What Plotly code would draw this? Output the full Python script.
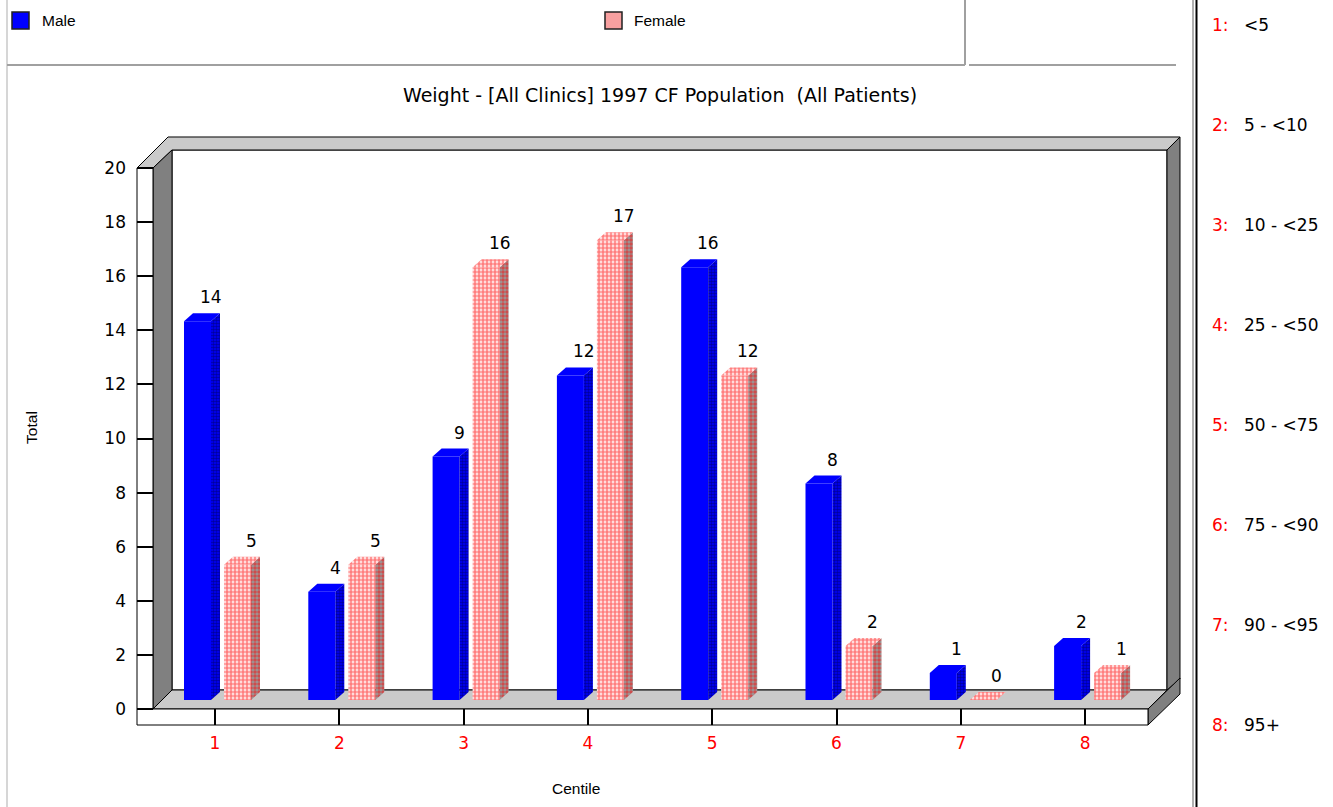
import plotly.graph_objects as go

# ---- data -------------------------------------------------------------
centiles = ["1", "2", "3", "4", "5", "6", "7", "8"]
centile_ranges = ["<5", "5 - <10", "10 - <25", "25 - <50",
                  "50 - <75", "75 - <90", "90 - <95", "95+"]
male = [14, 4, 9, 12, 16, 8, 1, 2]
female = [5, 5, 16, 17, 12, 2, 0, 1]
y_ticks = list(range(0, 21, 2))

# ---- geometry (pixels) ------------------------------------------------
W, H = 1333, 807
L, R, T, B = 137, 1190, 130, 725          # plotting box
X1_PX, X_STEP = 215, 124.3                # category 1 position and spacing
Y0_PX, Y_UNIT = 709, 27.05                # value 0 on front plane, px per unit
PLANE_SHIFT = 9                           # bars stand on a plane 9 px deeper

FONT = "DejaVu Sans"
FONT_NARROW = "Liberation Sans"
FS = 17
FS_SMALL = 15.5
FS_TITLE = 19


def xval(p):
    return 1 + (p - X1_PX) / X_STEP


def yval(p, shift=0):
    return (Y0_PX - shift - p) / Y_UNIT


def px(p):
    return (p - L) / (R - L)


def py(p):
    return (B - p) / (B - T)


pos = list(range(1, len(centiles) + 1))
BAR_W = 27 / X_STEP
MALE_OFF = -31 / X_STEP
FEMALE_OFF = 9 / X_STEP
DX = 9 / X_STEP
DY = 8 / Y_UNIT


def faces(values, off):
    """Side and top faces of the extruded bars."""
    sx, sy, tx, ty = [], [], [], []
    for p, v in zip(pos, values):
        x0 = p + off
        x1 = x0 + BAR_W
        sx += [x1, x1, x1 + DX, x1 + DX, x1, None]
        sy += [0, v, v + DY, DY, 0, None]
        tx += [x0, x0 + DX, x1 + DX, x1, x0, None]
        ty += [v, v + DY, v + DY, v, v, None]
    return sx, sy, tx, ty


fig = go.Figure()

BLUE = "#0000ff"
RED = "#ff0000"
DOTS = dict(shape=".", fgcolor=RED, bgcolor="white", size=4, solidity=0.7)

# anchor trace for the front-plane value axis
fig.add_trace(go.Scatter(x=[None], y=[None], xaxis="x", yaxis="y",
                         mode="markers", hoverinfo="skip", showlegend=False))

# front faces
fig.add_trace(go.Bar(
    x=pos, y=male, name="Male", offset=MALE_OFF, width=BAR_W,
    xaxis="x", yaxis="y2", marker=dict(color=BLUE, line=dict(width=0)),
    hoverinfo="skip"))
fig.add_trace(go.Bar(
    x=pos, y=female, name="Female", offset=FEMALE_OFF, width=BAR_W,
    xaxis="x", yaxis="y2",
    marker=dict(color="white", line=dict(width=0), pattern=DOTS),
    hoverinfo="skip"))

# side and top faces
msx, msy, mtx, mty = faces(male, MALE_OFF)
fsx, fsy, ftx, fty = faces(female, FEMALE_OFF)
fig.add_trace(go.Scatter(
    x=msx, y=msy, xaxis="x", yaxis="y2", mode="lines", fill="toself",
    line=dict(width=0), fillcolor="#0000c8",
    fillpattern=dict(shape=".", fgcolor="#000040", bgcolor=BLUE, size=3, solidity=0.55),
    hoverinfo="skip", showlegend=False))
fig.add_trace(go.Scatter(
    x=mtx, y=mty, xaxis="x", yaxis="y2", mode="lines", fill="toself",
    line=dict(width=0), fillcolor=BLUE, hoverinfo="skip", showlegend=False))
fig.add_trace(go.Scatter(
    x=fsx, y=fsy, xaxis="x", yaxis="y2", mode="lines", fill="toself",
    line=dict(width=0), fillcolor="#c08080",
    fillpattern=dict(shape=".", fgcolor=RED, bgcolor="#9a9a9a", size=4, solidity=0.65),
    hoverinfo="skip", showlegend=False))
fig.add_trace(go.Scatter(
    x=ftx, y=fty, xaxis="x", yaxis="y2", mode="lines", fill="toself",
    line=dict(width=0), fillcolor="#ffc0c0", fillpattern=DOTS,
    hoverinfo="skip", showlegend=False))

# value labels
annotations = []
for series, off in ((male, MALE_OFF), (female, FEMALE_OFF)):
    for p, v in zip(pos, series):
        annotations.append(dict(
            x=p + off + BAR_W, y=v, xref="x", yref="y2", text=str(v),
            showarrow=False, yshift=24, yanchor="middle",
            font=dict(family=FONT, size=FS, color="black")))

# ---- chart frame (walls and floor) ------------------------------------
def poly(points, fill, line="black", lw=1, layer="below"):
    d = "M " + " L ".join(f"{px(a):.5f},{py(b):.5f}" for a, b in points) + " Z"
    return dict(type="path", path=d, xref="paper", yref="paper",
                fillcolor=fill, line=dict(color=line, width=lw), layer=layer)


def seg(x0, y0, x1, y1, color, lw=1):
    return dict(type="line", xref="paper", yref="paper",
                x0=px(x0), y0=py(y0), x1=px(x1), y1=py(y1),
                line=dict(color=color, width=lw), layer="below")


HATCH = "#cacaca"
DARK = "#808080"
shapes = [
    poly([(172, 150), (1167, 150), (1167, 690), (172, 690)], "white"),
    poly([(137, 168), (168, 137), (1180, 137), (1167, 150), (172, 150), (153, 168)], HATCH),
    poly([(153, 168), (172, 150), (172, 690), (153, 709)], DARK),
    poly([(1167, 150), (1180, 137), (1180, 679), (1167, 690)], DARK),
    poly([(153, 709), (172, 690), (1167, 690), (1148, 709)], HATCH),
    poly([(1148, 709), (1180, 678), (1180, 694), (1148, 725)], DARK),
    poly([(137, 168), (153, 168), (153, 709), (137, 709)], "white"),
    poly([(137, 709), (1148, 709), (1148, 725), (137, 725)], "white"),
    # header and side panel rules
    seg(7, 0, 7, 807, "#c8c8c8", 1.5),
    seg(7, 65, 965, 65, "#a0a0a0", 2),
    seg(965, 0, 965, 65, "#a0a0a0", 2),
    seg(969, 65, 1176, 65, "#a0a0a0", 2),
    seg(1193, 0, 1193, 807, "#b0b0b0", 2),
    seg(1196.5, 0, 1196.5, 807, "black", 2),
    # legend swatches
    poly([(12, 12), (29, 12), (29, 29), (12, 29)], BLUE, "#202020", 1.5, "above"),
    poly([(605, 12), (622, 12), (622, 29), (605, 29)], "#f8a0a0", "#202020", 1.5, "above"),
]

# legend texts
annotations += [
    dict(x=px(40), y=py(21), xref="paper", yref="paper", text="Male",
         showarrow=False, xanchor="left", yanchor="middle",
         font=dict(family=FONT_NARROW, size=FS_SMALL, color="black")),
    dict(x=px(632), y=py(21), xref="paper", yref="paper", text="Female",
         showarrow=False, xanchor="left", yanchor="middle",
         font=dict(family=FONT_NARROW, size=FS_SMALL, color="black")),
    dict(x=px(576), y=py(788), xref="paper", yref="paper", text="Centile",
         showarrow=False, xanchor="center", yanchor="middle",
         font=dict(family=FONT_NARROW, size=FS_SMALL, color="black")),
]

# centile key on the right
for i, (c, r) in enumerate(zip(centiles, centile_ranges)):
    yy = 25 + 100 * i
    annotations.append(dict(x=px(1210), y=py(yy), xref="paper", yref="paper",
                            text=c + ":", showarrow=False, xanchor="left",
                            yanchor="middle",
                            font=dict(family=FONT, size=FS, color=RED)))
    annotations.append(dict(x=px(1242), y=py(yy), xref="paper", yref="paper",
                            text=r, showarrow=False, xanchor="left",
                            yanchor="middle",
                            font=dict(family=FONT, size=FS, color="black")))

fig.update_layout(
    width=W, height=H, autosize=False,
    margin=dict(l=L, r=W - R, t=T, b=H - B, pad=0),
    paper_bgcolor="white", plot_bgcolor="rgba(0,0,0,0)",
    showlegend=False, barmode="overlay",
    font=dict(family=FONT, size=FS, color="black"),
    title=dict(text="Weight - [All Clinics] 1997 CF Population \u00a0(All Patients)",
               x=660 / W, xref="container", xanchor="center",
               y=1 - 95 / H, yref="container", yanchor="middle",
               font=dict(family=FONT, size=FS_TITLE, color="black")),
    xaxis=dict(range=[xval(L), xval(R)], tickvals=pos, ticktext=centiles,
               ticks="inside", ticklen=16, tickcolor="black", tickwidth=1.5,
               showgrid=False, zeroline=False, showline=False,
               tickfont=dict(family=FONT, size=FS, color=RED),
               ticklabelstandoff=6),
    yaxis=dict(range=[yval(B), yval(T)], tickvals=y_ticks,
               ticks="inside", ticklen=16, tickcolor="black", tickwidth=1.5,
               showgrid=False, zeroline=False, showline=False,
               tickfont=dict(family=FONT, size=FS, color="black"),
               ticklabelstandoff=10,
               title=dict(text="Total", standoff=62,
                          font=dict(family=FONT_NARROW, size=FS_SMALL, color="black"))),
    yaxis2=dict(range=[yval(B, PLANE_SHIFT), yval(T, PLANE_SHIFT)],
                overlaying="y", visible=False),
    shapes=shapes,
    annotations=annotations,
)

fig.write_html("out.html")
